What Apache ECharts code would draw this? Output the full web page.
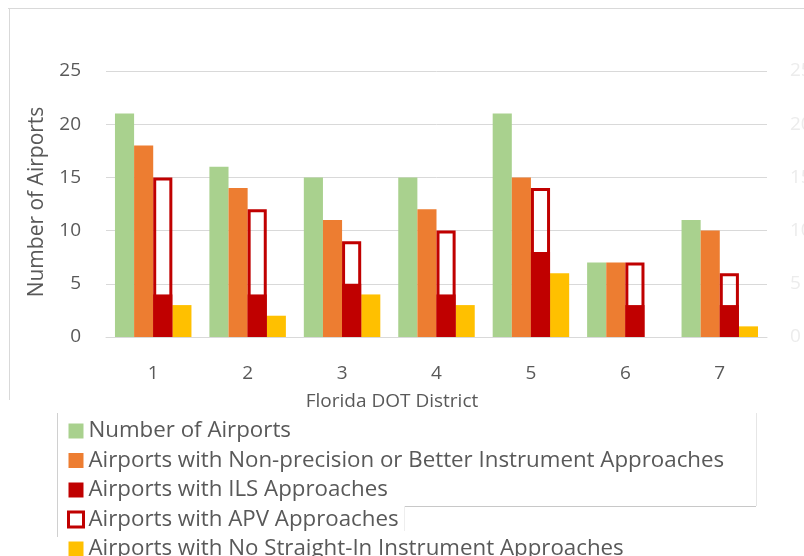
<!DOCTYPE html>
<html>
<head>
<meta charset="utf-8">
<script src="https://cdn.jsdelivr.net/npm/echarts@6/dist/echarts.min.js"></script>
<style>
html,body{margin:0;padding:0;background:#fff;}
#chart{width:804px;height:556px;}
</style>
</head>
<body>
<div id="chart"></div>
<script>
const districts = ['1', '2', '3', '4', '5', '6', '7'];
const numberOfAirports = [21, 16, 15, 15, 21, 7, 11];
const nonPrecision = [18, 14, 11, 12, 15, 7, 10];
const ilsApproaches = [4, 4, 5, 4, 8, 3, 3];
const apvApproaches = [15, 12, 9, 10, 14, 7, 6];
const noStraightIn = [3, 2, 4, 3, 6, 0, 1];
const yTicks = [0, 5, 10, 15, 20, 25];
const emptySlot = ['-', '-', '-', '-', '-', '-', '-'];

const names = {
  num: 'Number of Airports',
  np: 'Airports with Non-precision or Better Instrument Approaches',
  ils: 'Airports with ILS Approaches',
  apv: 'Airports with APV Approaches',
  nsi: 'Airports with No Straight-In Instrument Approaches'
};
const FONT = '"Open Sans", sans-serif';
const GREEN = '#A9D18E', ORANGE = '#ED7D31', RED = '#C00000', YELLOW = '#FFC000';
const TXT = '#595959';
const BCG = '19%';

const chart = echarts.init(document.getElementById('chart'));
chart.setOption({
  animation: false,
  backgroundColor: '#fff',
  textStyle: { fontFamily: FONT },
  grid: { left: 106, right: 37, top: 71, bottom: 219, outerBoundsMode: 'none', containLabel: false },
  xAxis: [
    {
      type: 'category', data: districts, position: 'bottom',
      axisLine: { lineStyle: { color: '#d9d9d9', width: 1 } },
      axisTick: { show: false },
      axisLabel: { color: TXT, fontSize: 19, fontFamily: FONT, margin: 27 }
    },
    {
      type: 'category', data: districts, position: 'bottom', show: false
    }
  ],
  yAxis: [
    {
      type: 'value', min: yTicks[0], max: yTicks[yTicks.length - 1], interval: 5,
      axisLine: { show: false }, axisTick: { show: false },
      splitLine: { lineStyle: { color: '#d9d9d9', width: 1 } },
      axisLabel: { color: TXT, fontSize: 19, fontFamily: FONT, margin: 25 }
    },
    {
      type: 'value', min: yTicks[0], max: yTicks[yTicks.length - 1], interval: 5,
      position: 'right',
      axisLine: { show: false }, axisTick: { show: false }, splitLine: { show: false },
      axisLabel: { color: '#ececec', fontSize: 19, fontFamily: FONT, margin: 23 }
    }
  ],
  legend: {
    orient: 'vertical', left: 62, top: 415, height: 300,
    itemWidth: 15, itemHeight: 15, itemGap: 7.5,
    textStyle: { color: TXT, fontSize: 22.3, fontFamily: FONT, lineHeight: 22 },
    data: [
      { name: names.num, icon: 'rect' },
      { name: names.np, icon: 'rect' },
      { name: names.ils, icon: 'rect' },
      { name: names.apv, icon: 'rect', itemStyle: { color: '#fff', borderColor: RED, borderWidth: 3 } },
      { name: names.nsi, icon: 'rect' }
    ]
  },
  graphic: [
    { type: 'line', shape: { x1: 8, y1: 8.5, x2: 804, y2: 8.5 }, style: { stroke: '#d9d9d9', lineWidth: 1 }, silent: true },
    { type: 'line', shape: { x1: 9.5, y1: 8, x2: 9.5, y2: 400 }, style: { stroke: '#d9d9d9', lineWidth: 1 }, silent: true },
    { type: 'line', shape: { x1: 57.5, y1: 413, x2: 57.5, y2: 537 }, style: { stroke: '#d0d0d0', lineWidth: 1 }, silent: true },
    { type: 'line', shape: { x1: 756.5, y1: 413, x2: 756.5, y2: 506 }, style: { stroke: '#e6e6e6', lineWidth: 1 }, silent: true },
    { type: 'line', shape: { x1: 404, y1: 506.5, x2: 756, y2: 506.5 }, style: { stroke: '#c8c8c8', lineWidth: 1 }, silent: true },
    { type: 'line', shape: { x1: 404.5, y1: 506, x2: 404.5, y2: 531 }, style: { stroke: '#eeeeee', lineWidth: 1 }, silent: true },
    {
      type: 'text', x: 37, y: 202, rotation: Math.PI / 2,
      style: { text: 'Number of Airports', fill: TXT, font: '21px ' + FONT, align: 'center', verticalAlign: 'middle' }
    },
    {
      type: 'text', x: 392, y: 402,
      style: { text: 'Florida DOT District', fill: TXT, font: '19px ' + FONT, align: 'center', verticalAlign: 'middle' }
    }
  ],
  series: [
    { name: names.num, type: 'bar', xAxisIndex: 0, data: numberOfAirports, barGap: '0%', barCategoryGap: BCG, itemStyle: { color: GREEN } },
    { name: names.np, type: 'bar', xAxisIndex: 0, data: nonPrecision, barGap: '0%', barCategoryGap: BCG, itemStyle: { color: ORANGE } },
    { name: names.ils, type: 'bar', xAxisIndex: 0, data: ilsApproaches, barGap: '0%', barCategoryGap: BCG, itemStyle: { color: RED }, z: 3 },
    { name: names.nsi, type: 'bar', xAxisIndex: 0, data: noStraightIn, barGap: '0%', barCategoryGap: BCG, itemStyle: { color: YELLOW } },
    { name: '_p1', type: 'bar', xAxisIndex: 1, data: emptySlot, barGap: '0%', barCategoryGap: BCG },
    { name: '_p2', type: 'bar', xAxisIndex: 1, data: emptySlot, barGap: '0%', barCategoryGap: BCG },
    { name: names.apv, type: 'bar', xAxisIndex: 1, data: apvApproaches, barGap: '0%', barCategoryGap: BCG, z: 2,
      itemStyle: { color: 'rgba(255,255,255,0)', borderColor: RED, borderWidth: 3 } },
    { name: '_p4', type: 'bar', xAxisIndex: 1, data: emptySlot, barGap: '0%', barCategoryGap: BCG }
  ]
});
</script>
</body>
</html>
